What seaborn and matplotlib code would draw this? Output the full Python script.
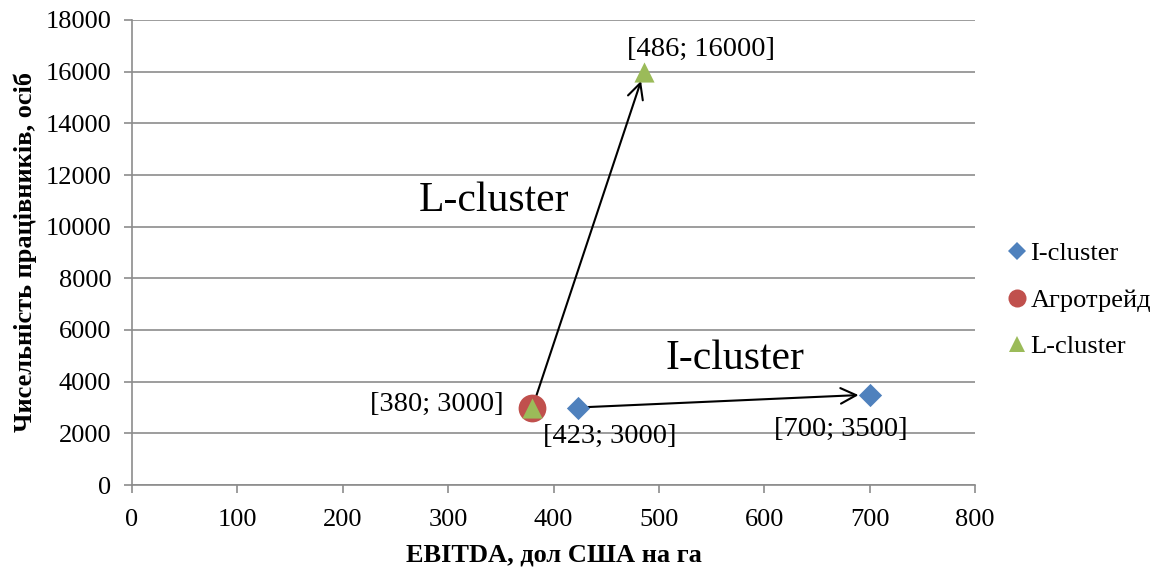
import matplotlib
matplotlib.use("Agg")
import matplotlib.pyplot as plt
from matplotlib.lines import Line2D
import seaborn as sns
import pandas as pd

# Data
i_x = [423, 700]
i_y = [3000, 3500]
a_x = [380]
a_y = [3000]
l_x = [380, 486]
l_y = [3000, 16000]
series_names = ["I-cluster", "Агротрейд", "L-cluster"]
point_labels = ["[380; 3000]", "[423; 3000]", "[700; 3500]", "[486; 16000]"]

sns.set_theme(style="white")
plt.rcParams['font.family'] = ['Liberation Serif', 'DejaVu Serif']
plt.rcParams['text.color'] = 'black'
plt.rcParams['axes.labelcolor'] = 'black'
plt.rcParams['xtick.labelcolor'] = 'black'
plt.rcParams['ytick.labelcolor'] = 'black'

fig = plt.figure(figsize=(11.65, 5.67), dpi=100)
ax = fig.add_axes([132/1165, 1-485/567, (975-132)/1165, (485-20)/567])

blue, red, green = "#4F81BD", "#C0504D", "#9BBB59"

df_i = pd.DataFrame({"x": i_x, "y": i_y})
df_a = pd.DataFrame({"x": a_x, "y": a_y})
df_l = pd.DataFrame({"x": l_x, "y": l_y})

sns.scatterplot(data=df_i, x="x", y="y", ax=ax, marker="D", s=140, color=blue,
                edgecolor=blue, linewidth=0, zorder=4, legend=False)
sns.scatterplot(data=df_a, x="x", y="y", ax=ax, marker="o", s=400, color=red,
                edgecolor=red, linewidth=0, zorder=4, legend=False)
sns.scatterplot(data=df_l, x="x", y="y", ax=ax, marker="^", s=210, color=green,
                edgecolor=green, linewidth=0, zorder=5, legend=False)

ax.set_xlim(0, 800)
ax.set_ylim(0, 18000)
ax.set_xticks(range(0, 801, 100))
ax.set_yticks(range(0, 18001, 2000))
ax.yaxis.grid(True, color="#8C8C8C", linewidth=1.2)
ax.xaxis.grid(False)
for s in ["top", "right"]:
    ax.spines[s].set_visible(False)
for s in ["left", "bottom"]:
    ax.spines[s].set_color("#8C8C8C")
    ax.spines[s].set_linewidth(1.2)
ax.tick_params(axis="both", which="both", direction="out", length=6, width=1.2,
               color="#8C8C8C", labelcolor="black", labelsize=19, left=True, bottom=True)
ax.tick_params(axis="y", pad=9)
ax.tick_params(axis="x", pad=11)
ax.set_xlabel("EBITDA, дол США на га", fontsize=19, fontweight="bold", color="black")
ax.set_ylabel("Чисельність працівників, осіб", fontsize=19, fontweight="bold", color="black")
ax.xaxis.set_label_coords(0.5, (485 - 543) / 465)
ax.yaxis.set_label_coords((37 - 132) / 843, 0.5)

# Arrows
arrow_kw = dict(arrowstyle="->", color="black", lw=1.5, mutation_scale=28,
                shrinkA=0, shrinkB=7)
ax.annotate("", xy=(l_x[1], l_y[1]), xytext=(l_x[0], l_y[0]),
            arrowprops=arrow_kw, zorder=3)
ax.annotate("", xy=(i_x[1], i_y[1]), xytext=(i_x[0], i_y[0]),
            arrowprops=dict(arrow_kw, shrinkB=8, shrinkA=6), zorder=3)

# Point labels
lab_fs = 20.5
ax.annotate(point_labels[0], (a_x[0], a_y[0]), xytext=(-29, 3), textcoords="offset pixels",
            ha="right", va="center", fontsize=lab_fs, color="black")
ax.annotate(point_labels[1], (i_x[0], i_y[0]), xytext=(32, -29), textcoords="offset pixels",
            ha="center", va="center", fontsize=lab_fs, color="black")
ax.annotate(point_labels[2], (i_x[1], i_y[1]), xytext=(-29, -35), textcoords="offset pixels",
            ha="center", va="center", fontsize=lab_fs, color="black")
ax.annotate(point_labels[3], (l_x[1], l_y[1]), xytext=(57, 22), textcoords="offset pixels",
            ha="center", va="center", fontsize=lab_fs, color="black")

# Cluster labels
ax.text(343.5, 11000, "L-cluster", fontsize=30, ha="center", va="center", color="black")
ax.text(572, 4900, "I-cluster", fontsize=30, ha="center", va="center", color="black")

handles = [
    Line2D([], [], linestyle="none", marker="D", markersize=9, color=blue, markeredgewidth=0),
    Line2D([], [], linestyle="none", marker="o", markersize=13, color=red, markeredgewidth=0),
    Line2D([], [], linestyle="none", marker="^", markersize=12, color=green, markeredgewidth=0),
]
fig.legend(handles, series_names, loc="center left", bbox_to_anchor=(1004/1165, 1-300/567),
           frameon=False, fontsize=19, handlelength=1.0, handletextpad=0.0,
           labelspacing=0.88, borderpad=0, borderaxespad=0, labelcolor="black")

fig.savefig("out.png", dpi=100)
